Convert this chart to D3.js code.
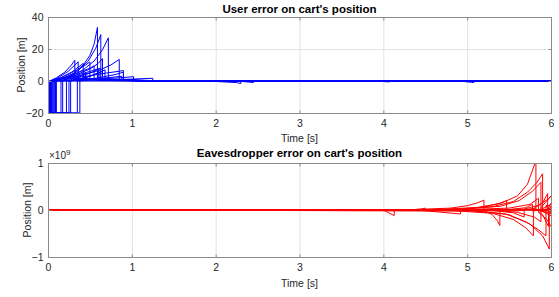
<!DOCTYPE html>
<html><head><meta charset="utf-8">
<script src="https://cdn.jsdelivr.net/npm/d3@7/dist/d3.min.js"></script>
<style>
html,body{margin:0;padding:0;background:#fff;}
svg{display:block;font-family:"Liberation Sans",Arial,sans-serif;}
</style></head>
<body><svg id="c" width="559" height="297"></svg>
<script>
// ---- data ----
const timeTicks = [0,1,2,3,4,5,6];
const userYTicks = [-20,0,20,40];
const eveYTicks = [-1,0,1];
const userTitle = "User error on cart's position";
const eveTitle = "Eavesdropper error on cart's position";
const xLabel = "Time [s]";
const yLabel = "Position [m]";

const userTraces = [
 [[0,-20],[0.02,-20],[0.02,0],[0.15,1.2],[0.3,4.5],[0.42,10],[0.5,16],[0.55,23],[0.59,33.5],[0.59,0.4],[1.3,0],[6,0]],
 [[0,-20],[0.025,-20],[0.025,0],[0.2,2],[0.35,6],[0.48,12.5],[0.57,20.5],[0.63,29],[0.63,0.3],[1.3,0],[6,0]],
 [[0,-20],[0.03,-20],[0.03,0],[0.25,2.5],[0.42,7],[0.55,12.5],[0.65,19.5],[0.72,27],[0.72,0.5],[1.4,0],[6,0]],
 [[0,-20],[0.035,-20],[0.035,0],[0.3,3],[0.5,7.5],[0.6,11],[0.65,14],[0.65,0.8],[1.3,0],[6,0]],
 [[0,-20],[0.04,-20],[0.04,0],[0.35,3],[0.6,6.5],[0.75,10],[0.85,13.5],[0.85,1],[1.4,0],[6,0]],
 [[0,-20],[0.02,-20],[0.02,0],[0.1,2],[0.2,5.5],[0.28,10],[0.32,13],[0.32,1.5],[1.2,0],[6,0]],
 [[0,-20],[0.03,-20],[0.03,0],[0.12,2],[0.24,6],[0.32,10],[0.36,12],[0.36,1],[1.2,0],[6,0]],
 [[0,-20],[0.045,-20],[0.045,0],[0.15,2],[0.28,5.5],[0.37,9],[0.42,11],[0.42,1.5],[1.2,0],[6,0]],
 [[0,-20],[0.05,-20],[0.05,0],[0.2,3],[0.35,7],[0.45,10],[0.5,12],[0.5,1],[1.3,0],[6,0]],
 [[0,-20],[0.06,-20],[0.06,0],[0.25,3],[0.4,6],[0.5,8],[0.55,9.5],[0.55,1],[1.3,0],[6,0]],
 [[0,-20],[0.07,-20],[0.07,0],[0.3,3],[0.5,6],[0.62,8],[0.62,1.5],[1.3,0],[6,0]],
 [[0,-20],[0.08,-20],[0.08,0],[0.4,2.5],[0.7,5],[0.9,6.5],[0.9,0.5],[1.4,0],[6,0]],
 [[0,-20],[0.09,-20],[0.09,0],[0.5,1],[0.85,2],[1.02,2.7],[1.02,0.3],[1.5,0],[6,0]],
 [[0,-20],[0.1,-20],[0.1,0],[0.6,0.6],[1.0,1.2],[1.25,1.7],[1.25,0.2],[1.6,0],[6,0]],
 [[0,-20],[0.155,-20],[0.155,0],[0.3,2],[0.4,3.5],[0.45,5],[0.45,1],[1.2,0],[6,0]],
 [[0,-20],[0.175,-20],[0.175,0],[0.25,2],[0.3,4],[0.3,1],[1.2,0],[6,0]],
 [[0,-20],[0.22,-20],[0.22,0],[0.4,3],[0.55,6],[0.6,7.5],[0.6,1],[1.3,0],[6,0]],
 [[0,-20],[0.25,-20],[0.25,0],[0.45,2],[0.6,5],[0.68,7],[0.68,1],[1.3,0],[6,0]],
 [[0,-20],[0.27,-20],[0.27,0],[0.5,3],[0.6,5],[0.65,6],[0.65,1],[1.3,0],[6,0]],
 [[0,-20],[0.35,-20],[0.35,0],[0.6,2],[0.8,4],[0.9,5.5],[0.9,0.5],[1.4,0],[6,0]],
 [[0,-20],[0.38,-20],[0.38,0],[0.6,1.5],[0.8,2.5],[0.88,3],[0.88,0.4],[1.4,0],[6,0]],
 [[0,0],[1.5,0],[2.0,-0.3],[2.25,-1],[2.3,-1.6],[2.3,-0.2],[2.42,-0.8],[2.45,-1],[2.45,0],[3.9,0],[4.05,-0.5],[4.07,-0.6],[4.07,0],[4.9,0],[5.05,-0.8],[5.08,-1],[5.08,0],[6,0]]
];

// values in units of 1e9 m
const eveTraces = [
 [[0,0],[3.5,0],[4.6,0.01],[5.1,0.05],[5.4,0.14],[5.6,0.3],[5.72,0.55],[5.82,1.05],[5.82,0.02],[5.92,-0.05],[6,-0.12]],
 [[0,0],[4.8,0.01],[5.3,0.07],[5.55,0.18],[5.72,0.38],[5.83,0.58],[5.9,0.77],[5.9,-0.03],[6,0.06]],
 [[0,0],[4.9,0.01],[5.4,0.08],[5.62,0.2],[5.78,0.4],[5.88,0.59],[5.88,0.01],[6,0.12]],
 [[0,0],[4.8,-0.01],[5.3,-0.07],[5.55,-0.2],[5.7,-0.38],[5.79,-0.55],[5.79,0.03],[6,-0.08]],
 [[0,0],[5.1,-0.02],[5.5,-0.1],[5.75,-0.3],[5.9,-0.55],[5.98,-0.83],[5.98,-0.05],[6,-0.05]],
 [[0,0],[5.0,-0.01],[5.45,-0.08],[5.7,-0.25],[5.85,-0.42],[5.94,-0.55],[5.94,0.1],[6,0.08]],
 [[0,0],[4.3,0.005],[4.8,0.04],[5.0,0.09],[5.12,0.15],[5.2,0.21],[5.2,-0.01],[5.3,-0.1],[5.36,-0.23],[5.39,-0.33],[5.39,0.0],[5.6,0.02],[6,-0.03]],
 [[0,0],[4.8,0.01],[5.2,0.06],[5.38,0.14],[5.47,0.2],[5.47,0.0],[5.7,0.05],[5.78,0.12],[5.78,-0.02],[6,0.02]],
 [[0,0],[3.6,0],[4.01,-0.01],[4.13,-0.12],[4.13,0.0],[6,0]],
 [[0,0],[4.4,0],[4.92,-0.085],[4.92,0.0],[6,0.01]],
 [[0,0],[5.0,0.01],[5.5,0.04],[5.75,0.12],[5.85,0.25],[5.85,-0.05],[5.95,-0.2],[6,-0.35]],
 [[0,0],[5.3,0],[5.6,-0.05],[5.8,-0.15],[5.88,-0.25],[5.88,0.05],[6,0.3]],
 [[0,0],[5.5,0.01],[5.82,0.02],[5.9,-0.1],[5.97,-0.35],[5.97,0.05],[6,0.15]],
 [[0,0],[5.6,-0.02],[5.79,0.03],[5.9,0.15],[5.96,0.35],[5.96,0],[6,0.05]],
 [[0,0],[4.3,0],[4.45,0.02],[4.5,0.04],[4.5,0],[6,0]],
 [[0,0],[5.3,-0.01],[5.55,-0.06],[5.68,-0.15],[5.68,0.02],[5.85,0.1],[5.98,0.25],[6,0.3]]
];

// ---- drawing ----
const svg = d3.select("#c");
const axisColor = "#8a8a8a", textColor = "#262626", gridColor = "#e3e3e3";

function panel(opts){
  const {top, bottom, left, right, yDomain, yTicks, traces, color, title, titleY, xlabY, ylabX, id} = opts;
  const x = d3.scaleLinear().domain([0,6]).range([left,right]);
  const y = d3.scaleLinear().domain(yDomain).range([bottom,top]);
  const g = svg.append("g");
  g.append("clipPath").attr("id",id).append("rect")
   .attr("x",left).attr("y",top).attr("width",right-left).attr("height",bottom-top);
  // grid
  g.append("g").selectAll("line").data(timeTicks.filter(t=>t>0&&t<6)).join("line")
   .attr("x1",d=>x(d)+0.5).attr("x2",d=>x(d)+0.5).attr("y1",top).attr("y2",bottom)
   .attr("stroke",gridColor).attr("stroke-width",1);
  g.append("g").selectAll("line").data(yTicks.filter(t=>t>yDomain[0]&&t<yDomain[1])).join("line")
   .attr("y1",d=>Math.round(y(d))+0.5).attr("y2",d=>Math.round(y(d))+0.5).attr("x1",left).attr("x2",right)
   .attr("stroke",gridColor).attr("stroke-width",1);
  // traces
  const line = d3.line().x(d=>x(d[0])).y(d=>y(d[1]));
  g.append("g").attr("clip-path",`url(#${id})`).selectAll("path").data(traces).join("path")
   .attr("d",line).attr("fill","none").attr("stroke",color).attr("stroke-width",1).attr("stroke-linejoin","round");
  // box
  g.append("rect").attr("x",left+0.5).attr("y",top+0.5).attr("width",right-left).attr("height",bottom-top)
   .attr("fill","none").attr("stroke",axisColor).attr("stroke-width",1);
  // axes with inner ticks
  const xa = g.append("g").attr("transform",`translate(0,${bottom+0.5})`)
   .call(d3.axisBottom(x).tickValues(timeTicks).tickSize(-3).tickPadding(6).tickFormat(d3.format("d")));
  const xt = g.append("g").attr("transform",`translate(0,${top+0.5})`)
   .call(d3.axisTop(x).tickValues(timeTicks).tickSize(-3).tickFormat(""));
  const ya = g.append("g").attr("transform",`translate(${left+0.5},0)`)
   .call(d3.axisLeft(y).tickValues(yTicks).tickSize(-3).tickPadding(5).tickFormat(d3.format("d")));
  const yr = g.append("g").attr("transform",`translate(${right+0.5},0)`)
   .call(d3.axisRight(y).tickValues(yTicks).tickSize(-3).tickFormat(""));
  [xa,xt,ya,yr].forEach(a=>{
    a.select(".domain").remove();
    a.selectAll(".tick line").attr("stroke",axisColor);
    a.selectAll("text").attr("fill",textColor).style("font-size","10.5px").style("font-family","'Liberation Sans',Arial,sans-serif");
  });
  // labels
  g.append("text").attr("x",(left+right)/2).attr("y",titleY).attr("text-anchor","middle")
   .style("font-weight","bold").style("font-size","11.5px").attr("fill","#000").text(title);
  g.append("text").attr("x",(left+right)/2).attr("y",xlabY).attr("text-anchor","middle")
   .style("font-size","10.5px").attr("fill",textColor).text(xLabel);
  g.append("text").attr("transform",`translate(${ylabX},${(top+bottom)/2}) rotate(-90)`).attr("text-anchor","middle")
   .style("font-size","10.5px").attr("fill",textColor).text(yLabel);
  return {x,y,g};
}

panel({top:17,bottom:113,left:48,right:551,yDomain:[-20,40],yTicks:userYTicks,traces:userTraces,
  color:"#0000ff",title:userTitle,titleY:13,xlabY:142,ylabX:25,id:"clipU"});
const p2 = panel({top:163,bottom:257,left:48,right:551,yDomain:[-1,1],yTicks:eveYTicks,traces:eveTraces,
  color:"#ff0000",title:eveTitle,titleY:157,xlabY:287,ylabX:31,id:"clipE"});
// exponent label
const ex = p2.g.append("text").attr("x",49).attr("y",159).attr("fill",textColor).style("font-size","10px");
ex.append("tspan").text("\u00d710");
ex.append("tspan").attr("dy",-4).style("font-size","8px").text("9");
</script></body></html>
